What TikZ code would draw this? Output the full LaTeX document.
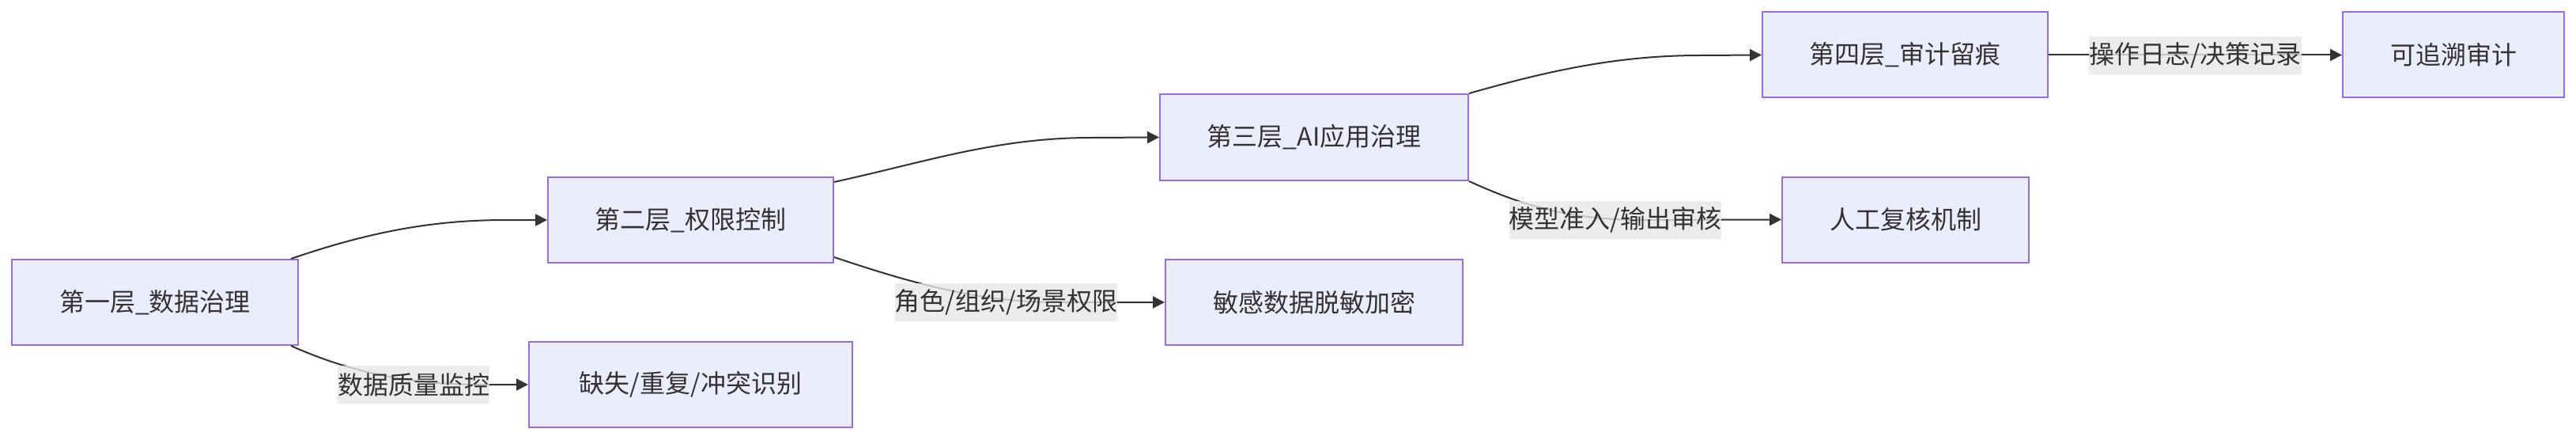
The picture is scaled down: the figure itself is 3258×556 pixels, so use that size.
\documentclass[tikz,border=0pt]{standalone}
\usepackage{fontspec}
\setmainfont{Noto Sans CJK SC}
\usetikzlibrary{arrows.meta}
\definecolor{nodefill}{HTML}{ECECFF}
\definecolor{nodeborder}{HTML}{9370DB}
\definecolor{edgecol}{HTML}{333333}
\definecolor{labelbg}{HTML}{E8E8E8}
\begin{document}
\begin{tikzpicture}[x=0.5pt,y=-0.5pt,
  box/.style={draw=nodeborder, fill=nodefill, line width=1pt, minimum height=54pt, inner sep=0pt, text=edgecol, font=\fontsize{16pt}{19pt}\selectfont},
  elabel/.style={fill=labelbg, fill opacity=0.8, text opacity=1, text=edgecol, inner sep=0pt, minimum height=24pt, font=\fontsize{16pt}{19pt}\selectfont},
  edge/.style={draw=edgecol, line width=1pt, -{Triangle[length=7.5pt,width=7.5pt]}}
]
\useasboundingbox (0,0) rectangle (3258,556);
\fill[white] (0,0) rectangle (3258,556);

\node[box, minimum width=181pt] (A) at (196,382) {第一层\_数据治理};
\node[box, minimum width=180.5pt] (B) at (873.5,278) {第二层\_权限控制};
\node[box, minimum width=204.5pt] (C) at (873.5,486) {缺失/重复/冲突识别};
\node[box, minimum width=195pt, minimum height=54.5pt] (D) at (1662,173.5) {第三层\_AI应用治理};
\node[box, minimum width=188pt] (E) at (1662,382) {敏感数据脱敏加密};
\node[box, minimum width=180.5pt] (F) at (2409.5,69.5) {第四层\_审计留痕};
\node[box, minimum width=156pt] (G) at (2410,277.5) {人工复核机制};
\node[box, minimum width=140pt] (H) at (3103,69.5) {可追溯审计};

\draw[edge] ([xshift=-5pt]A.north east) .. controls (470,292) and (550,278) .. (640,278) -- (B.west);
\draw[edge] ([xshift=-5pt]A.south east) .. controls (460,478) and (540,486) .. (610,486) -- (C.west);
\draw[edge] ([yshift=-3.5pt]B.north east) .. controls (1170,205) and (1260,174) .. (1380,174) -- (D.west);
\draw[edge] ([yshift=4pt]B.south east) .. controls (1160,360) and (1240,382) .. (1340,382) -- (E.west);
\draw[edge] (D.north east) .. controls (1950,92) and (2040,70) .. (2150,70) -- (F.west);
\draw[edge] (D.south east) .. controls (1930,262) and (1990,278) .. (2080,278) -- (G.west);
\draw[edge] (F.east) -- (H.west);

\node[elabel] (L1) at (523,486) {数据质量监控};
\node[elabel] (L2) at (1272.5,382) {角色/组织/场景权限};
\node[elabel] (L3) at (2043,278) {模型准入/输出审核};
\node[elabel] (L4) at (2776.5,70) {操作日志/决策记录};
\end{tikzpicture}
\end{document}
